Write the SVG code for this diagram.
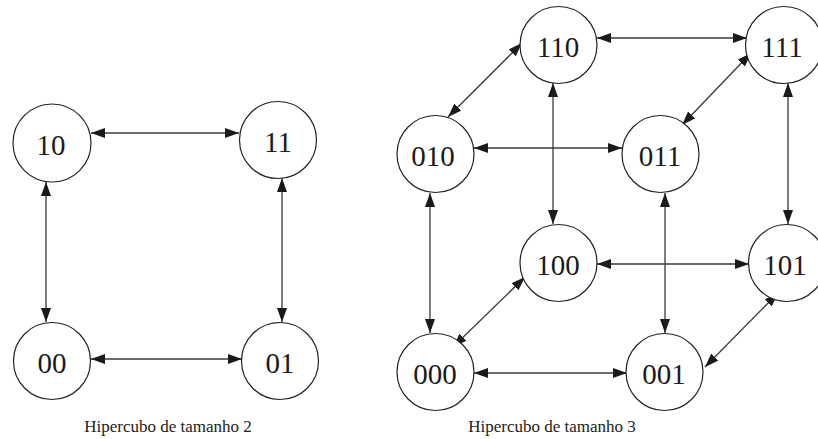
<svg xmlns="http://www.w3.org/2000/svg" width="818" height="439" viewBox="0 0 818 439">
<style>
.n circle{fill:#fff;stroke:#222;stroke-width:1.2}
.n text{font-family:"Liberation Serif","Times New Roman",serif;font-size:29px;text-anchor:middle;fill:#1a1a1a}
.e line{stroke:#3a3a3a;stroke-width:1.3;marker-start:url(#ah);marker-end:url(#ah)}
.cap{font-family:"Liberation Serif","Times New Roman",serif;font-size:17px;text-anchor:middle;fill:#222}
</style>
<defs>
<marker id="ah" markerUnits="userSpaceOnUse" markerWidth="14" markerHeight="10" refX="14" refY="5" orient="auto-start-reverse" viewBox="0 0 14 10">
<path d="M0,0 L14,5 L0,10 z" fill="#1a1a1a"/>
</marker>
</defs>
<rect width="818" height="439" fill="#fff"/>
<g id="connectors" class="e">
<line x1="91" y1="133" x2="239" y2="133"/>
<line x1="46" y1="182" x2="46" y2="322"/>
<line x1="282" y1="178" x2="282" y2="322"/>
<line x1="91" y1="359" x2="242" y2="359"/>
<line x1="597" y1="38" x2="747" y2="38"/>
<line x1="474" y1="148" x2="622" y2="148"/>
<line x1="597" y1="264" x2="749" y2="264"/>
<line x1="474" y1="373" x2="627" y2="373"/>
<line x1="522" y1="43" x2="448" y2="117"/>
<line x1="751" y1="53" x2="682" y2="125"/>
<line x1="553" y1="83" x2="553" y2="224"/>
<line x1="788" y1="83" x2="788" y2="224"/>
<line x1="430" y1="193" x2="430" y2="333"/>
<line x1="665" y1="193" x2="665" y2="333"/>
<line x1="525" y1="277" x2="453" y2="347"/>
<line x1="778" y1="293" x2="705" y2="367"/>
</g>
<g id="n10" class="n"><circle cx="52" cy="143" r="39"/><text x="51" y="155">10</text></g>
<g id="n11" class="n"><circle cx="278" cy="140" r="38.5"/><text x="278" y="152">11</text></g>
<g id="n00" class="n"><circle cx="52" cy="361" r="38.5"/><text x="52" y="373">00</text></g>
<g id="n01" class="n"><circle cx="280" cy="361" r="38.5"/><text x="280" y="373">01</text></g>
<g id="n110" class="n"><circle cx="558.5" cy="45" r="38.5"/><text x="558" y="57">110</text></g>
<g id="n111" class="n"><circle cx="784" cy="45" r="38.5"/><text x="782" y="57">111</text></g>
<g id="n010" class="n"><circle cx="435.5" cy="154" r="38.5"/><text x="433" y="166">010</text></g>
<g id="n011" class="n"><circle cx="660.5" cy="154" r="38.5"/><text x="660" y="166">011</text></g>
<g id="n100" class="n"><circle cx="558.5" cy="263" r="38.5"/><text x="558" y="275">100</text></g>
<g id="n101" class="n"><circle cx="787" cy="263" r="38.5"/><text x="785" y="275">101</text></g>
<g id="n000" class="n"><circle cx="435.5" cy="372" r="38.5"/><text x="435" y="384">000</text></g>
<g id="n001" class="n"><circle cx="664.5" cy="372" r="38.5"/><text x="664" y="384">001</text></g>
<text class="cap" x="168" y="432">Hipercubo de tamanho 2</text>
<text class="cap" x="552" y="432">Hipercubo de tamanho 3</text>
</svg>
